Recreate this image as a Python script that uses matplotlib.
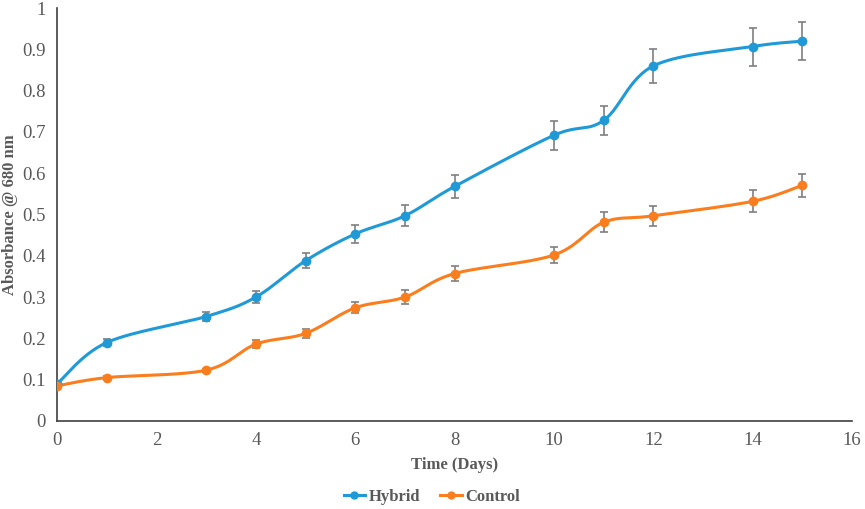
import numpy as np
import matplotlib
matplotlib.use("Agg")
import matplotlib.pyplot as plt
from matplotlib.lines import Line2D

plt.rcParams['font.family'] = ['Liberation Serif', 'DejaVu Serif']

# data
days = [0, 1, 3, 4, 5, 6, 7, 8, 10, 11, 12, 14, 15]
hybrid = [0.090, 0.190, 0.253, 0.300, 0.388, 0.453, 0.497, 0.568, 0.692, 0.728, 0.860, 0.907, 0.920]
hybrid_err = [0.004, 0.008, 0.012, 0.015, 0.018, 0.022, 0.025, 0.028, 0.035, 0.036, 0.042, 0.046, 0.046]
control = [0.085, 0.105, 0.123, 0.186, 0.212, 0.274, 0.300, 0.357, 0.402, 0.481, 0.497, 0.532, 0.571]
control_err = [0.002, 0.004, 0.004, 0.010, 0.010, 0.013, 0.016, 0.018, 0.020, 0.024, 0.024, 0.027, 0.028]

blue = '#1f9ad6'
orange = '#fa7d1e'


def smooth(x, y, n=30):
    # excel style smoothed line (bezier through points)
    x = np.asarray(x, float)
    y = np.asarray(y, float)
    xs, ys = [], []
    for i in range(len(x) - 1):
        p0 = (x[i - 1], y[i - 1]) if i > 0 else (x[i], y[i])
        p1 = (x[i], y[i])
        p2 = (x[i + 1], y[i + 1])
        p3 = (x[i + 2], y[i + 2]) if i + 2 < len(x) else (x[i + 1], y[i + 1])
        c1 = (p1[0] + (p2[0] - p0[0]) / 6, p1[1] + (p2[1] - p0[1]) / 6)
        c2 = (p2[0] - (p3[0] - p1[0]) / 6, p2[1] - (p3[1] - p1[1]) / 6)
        t = np.linspace(0, 1, n)
        for a, b, c, d, out in ((p1[0], c1[0], c2[0], p2[0], xs), (p1[1], c1[1], c2[1], p2[1], ys)):
            out.extend((1 - t) ** 3 * a + 3 * (1 - t) ** 2 * t * b + 3 * (1 - t) * t ** 2 * c + t ** 3 * d)
    return xs, ys


fig = plt.figure(figsize=(8.65, 5.09), dpi=100)
ax = fig.add_axes([0.066, 0.173, 0.919, 0.811])

for yv, err, col in ((hybrid, hybrid_err, blue), (control, control_err, orange)):
    sx, sy = smooth(days, yv)
    ax.plot(sx, sy, color=col, lw=2.2, zorder=3)
    ax.errorbar(days, yv, yerr=err, fmt='none', ecolor='#7f7f7f', elinewidth=1.2,
                capsize=3, capthick=1.2, zorder=2)
    ax.plot(days, yv, 'o', color=col, ms=6, zorder=4)

ax.set_xlim(0, 16)
ax.set_ylim(0, 1)
ax.set_xticks(range(0, 17, 2))
ax.set_yticks(np.arange(0, 1.01, 0.1))
ax.set_yticklabels(['0', '0.1', '0.2', '0.3', '0.4', '0.5', '0.6', '0.7', '0.8', '0.9', '1'])
ax.tick_params(length=0, labelsize=13.5, labelcolor='#595959', pad=8)
for s in ('top', 'right'):
    ax.spines[s].set_visible(False)
for s in ('left', 'bottom'):
    ax.spines[s].set_color('#404040')
    ax.spines[s].set_linewidth(1.2)

ax.set_xlabel('Time (Days)', fontsize=12, fontweight='bold', color='#595959', labelpad=6)
ax.set_ylabel('Absorbance @ 680 nm', fontsize=12, fontweight='bold', color='#595959',
              va='center')
ax.yaxis.set_label_coords(-0.059, 0.5)

handles = [Line2D([], [], color=blue, lw=2.2, marker='o', ms=5),
           Line2D([], [], color=orange, lw=2.2, marker='o', ms=5)]
fig.legend(handles, ['Hybrid', 'Control'], loc='center', bbox_to_anchor=(0.499, 0.023), ncol=2,
           frameon=False, handlelength=1.3, handletextpad=0.2, columnspacing=1.2,
           prop={'weight': 'bold', 'size': 12}, labelcolor='#595959')

fig.savefig('out.png', dpi=100)
